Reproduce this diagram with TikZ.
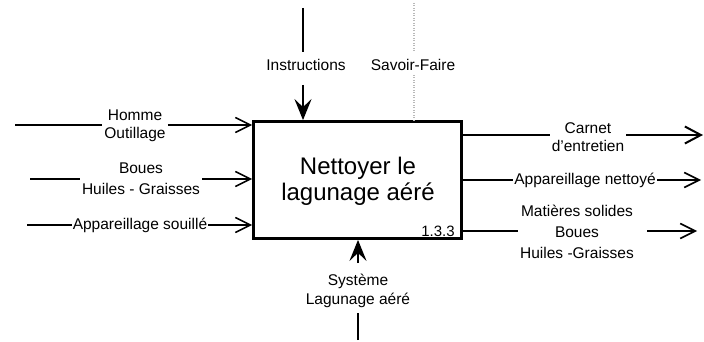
\documentclass[tikz,border=0pt]{standalone}
\usepackage{fontspec}
\setmainfont{Liberation Sans}
\usetikzlibrary{arrows.meta}
\tikzset{
  lbl/.style={font=\fontsize{15.5}{18.5}\selectfont, align=center, inner sep=2pt},
  lblw/.style={lbl, fill=white, inner sep=1pt},
  flow/.style={line width=1.8pt},
  inarrow/.style={flow, -{Straight Barb[length=15pt,width=15pt,line width=1.6pt]}},
  outarrow/.style={flow, -{Straight Barb[length=16pt,width=17pt,line width=2pt]}},
  ctrl/.style={line width=2.6pt},
  ctrlarrow/.style={line width=2.4pt, -{Stealth[length=21pt,width=17pt,inset=8pt]}},
  dotline/.style={gray!55, dash pattern=on 1pt off 1.5pt, line width=1.2pt},
  actbox/.style={draw, line width=2.8pt, minimum width=208pt, minimum height=117pt, inner sep=0pt}
}
\begin{document}
\begin{tikzpicture}[x=1pt,y=-1pt]
\useasboundingbox (0,0) rectangle (704,342);

% activity box
\node[actbox] (box) at (357.5,180) {};
\node[font=\fontsize{24}{26}\selectfont, align=center] (title) at (358,181) {Nettoyer le\\lagunage aéré};
\node[font=\fontsize{15}{16}\selectfont, anchor=south east, inner sep=2pt] (num) at ([xshift=-6pt,yshift=1pt]box.south east) {1.3.3};

% control: Instructions
\coordinate (insttop) at (303,8);
\node[lbl] (inst) at (306,65) {Instructions};
\draw[ctrl] (insttop) -- (insttop |- 0,52);
\draw[ctrlarrow] (303,85) coordinate (instlow) -- (instlow |- box.north);

% control: Savoir-Faire
\coordinate (savtop) at (414,3);
\node[lbl] (sav) at (413,65) {Savoir-Faire};
\draw[dotline] (savtop) -- (414,52);
\draw[dotline] (414,75) coordinate (savlow) -- (savlow |- box.north);

% inputs
\coordinate (in1) at (15,125);
\node[lbl] (homme) at (135,126) {Homme\\Outillage};
\draw[flow] (in1) -- (in1 -| homme.west);
\draw[inarrow] (homme.east |- in1) -- (box.west |- in1);

\coordinate (in2) at (30,179);
\node[lbl, font=\fontsize{15.5}{21}\selectfont] (boues) at (141,179) {Boues\\Huiles - Graisses};
\draw[flow] (in2) -- (in2 -| boues.west);
\draw[inarrow] (boues.east |- in2) -- (box.west |- in2);

\coordinate (in3) at (27,225);
\draw[inarrow] (in3) -- (box.west |- in3);
\node[lblw] (souille) at (140,225) {Appareillage souillé};

% outputs
\node[lbl] (carnet) at (588,137) {Carnet\\d'entretien};
\coordinate (out1) at (703,135);
\draw[flow] (box.east |- out1) -- (out1 -| carnet.west);
\draw[outarrow] (carnet.east |- out1) -- (out1);

\coordinate (out2) at (701,180);
\draw[inarrow] (box.east |- out2) -- (out2);
\node[lblw] (nettoye) at (585,180) {Appareillage nettoyé};

\node[lbl, font=\fontsize{15.5}{21}\selectfont] (matieres) at (577,232) {Matières solides\\Boues\\Huiles -Graisses};
\coordinate (out3a) at (518,231);
\coordinate (out3b) at (647,231);
\coordinate (out3) at (697,231);
\draw[flow] (box.east |- out3a) -- (out3a);
\draw[inarrow] (out3b) -- (out3);

% mechanism
\node[lbl] (sys) at (358,291) {Système\\Lagunage aéré};
\coordinate (mechbot) at (358,340);
\draw[ctrl] (mechbot) -- (358,313);
\draw[ctrlarrow] (358,263) coordinate (mechlow) -- (mechlow |- box.south);
\end{tikzpicture}
\end{document}
